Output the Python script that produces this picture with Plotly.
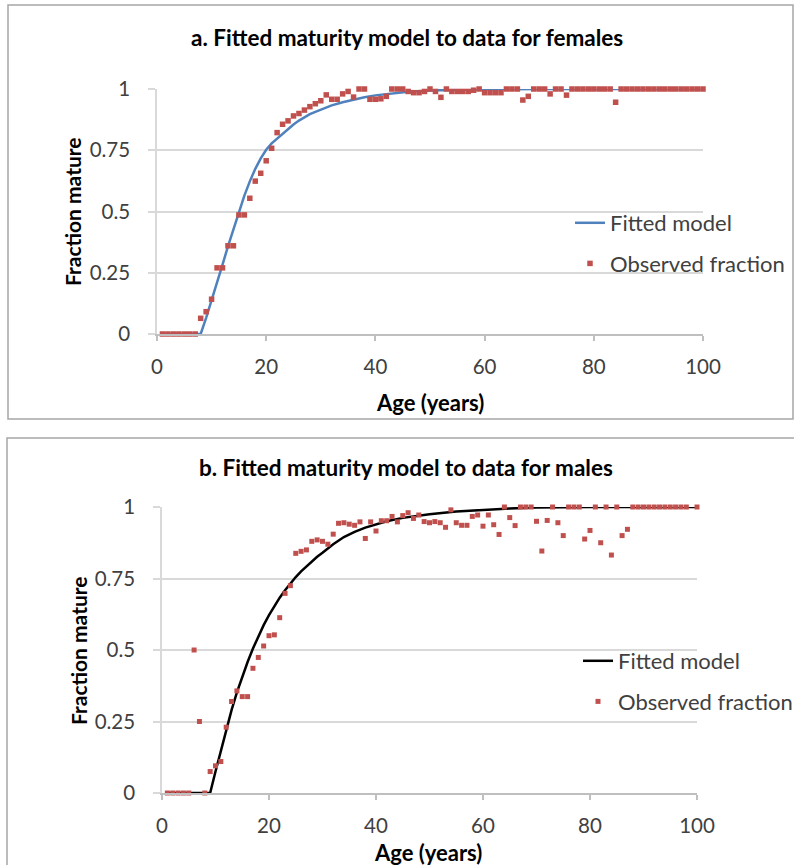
import plotly.graph_objects as go

W, H = 794, 865

# ---- data: females ----
fem_age = list(range(1, 101))
fem_obs = [0, 0, 0, 0, 0, 0, 0, 0.064, 0.091, 0.142,
           0.27, 0.27, 0.36, 0.36, 0.486, 0.486, 0.554, 0.624, 0.656, 0.707,
           0.758, 0.822, 0.856, 0.87, 0.89, 0.90, 0.914, 0.928, 0.94, 0.952,
           0.976, 0.958, 0.958, 0.98, 0.99, 0.967, 1.0, 1.0, 0.958, 0.958,
           0.96, 0.97, 1.0, 1.0, 1.0, 0.99, 0.985, 0.985, 0.99, 1.0,
           0.99, 0.966, 1.0, 0.99, 0.99, 0.99, 0.99, 0.995, 1.0, 0.985,
           0.985, 0.985, 0.985, 1.0, 1.0, 1.0, 0.955, 0.97, 1.0, 1.0,
           1.0, 0.98, 1.0, 1.0, 0.975, 1.0, 1.0, 1.0, 1.0, 1.0,
           1.0, 1.0, 1.0, 0.946, 1.0, 1.0, 1.0, 1.0, 1.0, 1.0,
           1.0, 1.0, 1.0, 1.0, 1.0, 1.0, 1.0, 1.0, 1.0, 1.0]
fem_fit_age = [1, 8, 9, 10, 11, 12, 13, 14, 15, 16, 17, 18, 19, 20, 21, 22, 23, 24,
               25, 26, 27, 28, 29, 30, 32, 34, 36, 38, 40, 43, 46, 50, 55, 60, 70, 100]
fem_fit = [0, 0, 0.066, 0.135, 0.208, 0.283, 0.358, 0.43, 0.5, 0.565, 0.623, 0.674,
           0.717, 0.752, 0.778, 0.798, 0.819, 0.838, 0.855, 0.871, 0.885, 0.897,
           0.907, 0.916, 0.933, 0.946, 0.957, 0.966, 0.974, 0.983, 0.989, 0.994,
           0.997, 0.999, 1.0, 1.0]

# ---- data: males ----
male_age = list(range(1, 99)) + [100]
male_obs = [0, 0, 0, 0, 0, 0.5, 0.25, 0, 0.075, 0.095,
            0.11, 0.23, 0.32, 0.357, 0.337, 0.337, 0.436, 0.474, 0.514, 0.55,
            0.553, 0.613, 0.698, 0.725, 0.838, 0.845, 0.85, 0.88, 0.885, 0.88,
            0.87, 0.905, 0.943, 0.945, 0.94, 0.936, 0.948, 0.89, 0.948, 0.916,
            0.952, 0.952, 0.967, 0.948, 0.97, 0.98, 0.96, 0.972, 0.949, 0.945,
            0.949, 0.945, 0.929, 0.99, 0.945, 0.936, 0.936, 0.967, 0.972, 0.933,
            0.972, 0.938, 0.904, 1.0, 0.963, 0.935, 1.0, 1.0, 1.0, 0.95,
            0.846, 0.953, 1.0, 0.945, 0.9, 1.0, 1.0, 1.0, 0.888, 0.918,
            1.0, 0.875, 1.0, 0.832, 1.0, 0.9, 0.922, 1.0, 1.0, 1.0,
            1.0, 1.0, 1.0, 1.0, 1.0, 1.0, 1.0, 1.0, 1.0]
male_fit_age = [1, 9, 10, 11, 12, 13, 14, 15, 16, 17, 18, 19, 20, 21, 22, 23, 24,
                25, 26, 27, 28, 29, 30, 32, 34, 36, 38, 40, 42, 45, 50, 55, 60,
                65, 70, 80, 100]
male_fit = [0, 0, 0.075, 0.15, 0.222, 0.29, 0.352, 0.408, 0.458, 0.505, 0.548,
            0.587, 0.622, 0.654, 0.683, 0.709, 0.733, 0.755, 0.775, 0.793, 0.81,
            0.826, 0.84, 0.87, 0.895, 0.913, 0.928, 0.94, 0.95, 0.962, 0.975,
            0.984, 0.99, 0.995, 0.998, 1.0, 1.0]

y_ticks = [0, 0.25, 0.5, 0.75, 1]
y_tick_text = ["0", "0.25", "0.5", "0.75", "1"]

FONT = "Lato"
RED = "#c0504d"
GRID = "#d9d9d9"
TXT = "#404040"


def px_x(p):
    return p / W


def px_y(p):
    return 1 - p / H


fig = go.Figure()

# panel a
fig.add_trace(go.Scatter(x=fem_fit_age, y=fem_fit, mode="lines", name="Fitted model",
                         line=dict(color="#4f81bd", width=2.5), cliponaxis=False,
                         xaxis="x", yaxis="y", legend="legend", legendgroup="a1"))
fig.add_trace(go.Scatter(x=fem_age, y=fem_obs, mode="markers", name="Observed fraction",
                         marker=dict(symbol="square", size=5.5, color=RED), cliponaxis=False,
                         xaxis="x", yaxis="y", legend="legend", legendgroup="a2"))
# panel b
fig.add_trace(go.Scatter(x=male_fit_age, y=male_fit, mode="lines", name="Fitted model",
                         line=dict(color="black", width=2.5), cliponaxis=False,
                         xaxis="x2", yaxis="y2", legend="legend2", legendgroup="b1"))
fig.add_trace(go.Scatter(x=male_age, y=male_obs, mode="markers", name="Observed fraction",
                         marker=dict(symbol="square", size=5, color=RED), cliponaxis=False,
                         xaxis="x2", yaxis="y2", legend="legend2", legendgroup="b2"))

xaxis_common = dict(range=[0, 100], dtick=20, tick0=0, ticks="outside", ticklen=5,
                    tickcolor="#bfbfbf", tickwidth=1.5, showline=True, linecolor="#bfbfbf",
                    linewidth=1.5, showgrid=False, zeroline=False,
                    tickfont=dict(family=FONT, size=20.5, color=TXT), ticklabelstandoff=9,
                    fixedrange=True, automargin=False)
yaxis_common = dict(range=[0, 1], tickvals=y_ticks, ticktext=y_tick_text, ticks="outside",
                    ticklen=7, tickcolor=GRID, tickwidth=1.5, showgrid=True, gridcolor=GRID,
                    gridwidth=1.5, showline=True, linecolor=GRID, linewidth=1.5,
                    zeroline=False, tickfont=dict(family=FONT, size=20.5, color=TXT),
                    ticklabelstandoff=14, fixedrange=True, automargin=False)

legend_common = dict(xanchor="left", yanchor="top", bgcolor="rgba(0,0,0,0)",
                     font=dict(family=FONT, size=22, color=TXT),
                     tracegroupgap=9, itemwidth=30)

fig.update_layout(
    width=W, height=H, margin=dict(l=0, r=0, t=0, b=0, autoexpand=False),
    paper_bgcolor="white", plot_bgcolor="white",
    xaxis=dict(domain=[px_x(157), px_x(703)], anchor="y", **xaxis_common),
    yaxis=dict(domain=[px_y(334), px_y(89)], anchor="x", **yaxis_common),
    xaxis2=dict(domain=[px_x(162), px_x(697)], anchor="y2", **xaxis_common),
    yaxis2=dict(domain=[px_y(793), px_y(507)], anchor="x2", **yaxis_common),
    legend=dict(x=px_x(570), y=px_y(202), **legend_common),
    legend2=dict(x=px_x(578), y=px_y(640), **legend_common),
    showlegend=True,
)

# panel frames
fig.add_shape(type="rect", xref="paper", yref="paper", x0=px_x(8), x1=px_x(793),
              y0=px_y(419), y1=px_y(5), line=dict(color="#a6a6a6", width=1.5))
fig.add_shape(type="rect", xref="paper", yref="paper", x0=px_x(7), x1=px_x(800),
              y0=px_y(872), y1=px_y(438), line=dict(color="#a6a6a6", width=1.5))


# chart titles and axis titles
def label(text, x, y, size, angle=0):
    fig.add_annotation(text=text, x=px_x(x), y=px_y(y), xref="paper", yref="paper",
                       showarrow=False, textangle=angle, xanchor="center", yanchor="middle",
                       font=dict(family=FONT, size=size, color="black"))


label("<b>a. Fitted maturity model to data for females</b>", 407, 37, 22.5)
label("<b>b. Fitted maturity model to data for males</b>", 406, 468, 22.5)
label("<b>Fraction mature</b>", 72, 212, 21, -90)
label("<b>Fraction mature</b>", 78, 651, 21, -90)
label("<b>Age (years)</b>", 430, 402, 22)
label("<b>Age (years)</b>", 428, 852, 22)

fig.write_html("out.html")
